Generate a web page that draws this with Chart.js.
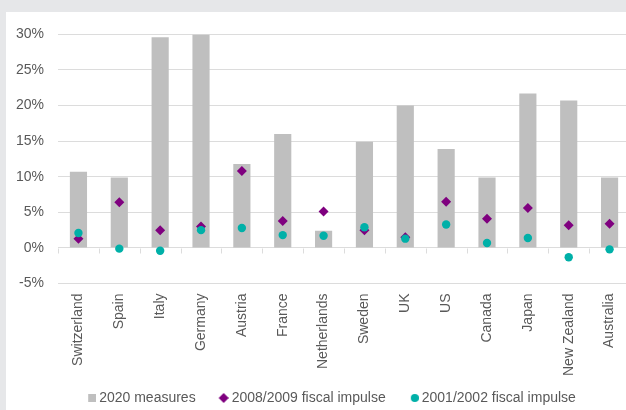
<!DOCTYPE html>
<html>
<head>
<meta charset="utf-8">
<script src="https://cdn.jsdelivr.net/npm/chart.js@4/dist/chart.umd.min.js"></script>
<style>
  html, body { margin: 0; padding: 0; }
  body { width: 626px; height: 410px; background: #e6e7e9; overflow: hidden; position: relative; }
  #panel { position: absolute; left: 6px; top: 12px; width: 620px; height: 398px; background: #ffffff; }
  #wrap { position: absolute; left: -8px; top: 12px; width: 643px; height: 403px; }
</style>
</head>
<body>
<div id="panel"></div>
<div id="wrap"><canvas id="chart"></canvas></div>
<script>
// countries along the x axis
var categories = ['Switzerland', 'Spain', 'Italy', 'Germany', 'Austria', 'France', 'Netherlands',
                  'Sweden', 'UK', 'US', 'Canada', 'Japan', 'New Zealand', 'Australia'];

// stimulus as % of GDP
var measures2020 = [10.7, 9.9, 29.6, 30.0, 11.8, 16.0, 2.4, 14.9, 20.0, 13.9, 9.9, 21.7, 20.7, 9.9];
var impulse0809  = [1.3, 6.4, 2.5, 3.0, 10.8, 3.8, 5.1, 2.5, 1.5, 6.5, 4.1, 5.6, 3.2, 3.4];
var impulse0102  = [2.1, -0.1, -0.4, 2.5, 2.8, 1.8, 1.7, 2.9, 1.3, 3.3, 0.7, 1.4, -1.3, -0.2];

var seriesNames = ['2020 measures', '2008/2009 fiscal impulse', '2001/2002 fiscal impulse'];

var yMin = -5, yMax = 30, yStep = 5;

var GREY = '#bfbfbf';
var PURPLE = '#7f007f';
var TEAL = '#00b0a8';
var TEXT = '#595959';
var GRID = '#dcdcdc';

// legend symbols: drawn at the right end of a wider transparent strip,
// the empty part adds to the gap after the previous legend entry
var SYMBOL_BOX = 16;
var SYMBOL_STRIP = SYMBOL_BOX + 8;

function makeSymbol(shape, color, size) {
    var c = document.createElement('canvas');
    c.width = SYMBOL_STRIP;
    c.height = size;
    var g = c.getContext('2d');
    g.fillStyle = color;
    var x0 = SYMBOL_STRIP - size;
    var h = size / 2;
    if (shape == 'square') {
        g.fillRect(x0, 0, size, size);
    } else if (shape == 'diamond') {
        g.beginPath();
        g.moveTo(x0 + h, 0);
        g.lineTo(x0 + size, h);
        g.lineTo(x0 + h, size);
        g.lineTo(x0, h);
        g.closePath();
        g.fill();
    } else {
        g.beginPath();
        g.arc(x0 + h, h, h, 0, Math.PI * 2);
        g.fill();
    }
    return c;
}

var legendSymbols = [
    makeSymbol('square', GREY, 8),
    makeSymbol('diamond', PURPLE, 10),
    makeSymbol('circle', TEAL, 8)
];

// little tick marks hanging off the zero line between categories
var zeroTicks = {
    id: 'zeroTicks',
    beforeDatasetsDraw: function(chart) {
        var x = chart.scales.x, y = chart.scales.y;
        var ctx = chart.ctx;
        var y0 = Math.round(y.getPixelForValue(0)) + 0.5;
        ctx.save();
        ctx.strokeStyle = GRID;
        ctx.lineWidth = 1;
        ctx.beginPath();
        for (var i = 0; i <= categories.length; i++) {
            var px = Math.round(x.getPixelForValue(i - 0.5)) + 0.5;
            ctx.moveTo(px, y0);
            ctx.lineTo(px, y0 + 5);
        }
        ctx.stroke();
        ctx.restore();
    }
};

// legend sits a bit right of the canvas centre
var legendShift = {
    id: 'legendShift',
    afterLayout: function(chart) {
        chart.legend.left += 8;
        chart.legend.right += 8;
    }
};

Chart.defaults.font.family = '"Liberation Sans", Arial, sans-serif';
Chart.defaults.font.size = 14;
Chart.defaults.color = TEXT;

new Chart(document.getElementById('chart'), {
    type: 'bar',
    data: {
        labels: categories,
        datasets: [{
            label: seriesNames[0],
            data: measures2020,
            backgroundColor: GREY,
            borderWidth: 0,
            barPercentage: 0.42,
            categoryPercentage: 1,
            order: 3
        }, {
            type: 'line',
            label: seriesNames[1],
            data: impulse0809,
            showLine: false,
            pointStyle: 'rectRot',
            pointRadius: 5,
            pointHoverRadius: 5,
            pointBackgroundColor: PURPLE,
            pointBorderWidth: 0,
            order: 2
        }, {
            type: 'line',
            label: seriesNames[2],
            data: impulse0102,
            showLine: false,
            pointStyle: 'circle',
            pointRadius: 4.2,
            pointHoverRadius: 4.2,
            pointBackgroundColor: TEAL,
            pointBorderWidth: 0,
            order: 1
        }]
    },
    options: {
        responsive: true,
        maintainAspectRatio: false,
        animation: false,
        layout: { padding: { left: 10, right: 1, top: 15, bottom: 0 } },
        scales: {
            x: {
                grid: { display: false },
                border: { display: false },
                ticks: {
                    autoSkip: false,
                    minRotation: 90,
                    maxRotation: 90,
                    padding: 2
                }
            },
            y: {
                min: yMin,
                max: yMax,
                grid: { color: GRID, drawTicks: false },
                border: { display: false },
                ticks: {
                    stepSize: yStep,
                    padding: 14,
                    callback: function(v) { return v + '%'; }
                }
            }
        },
        plugins: {
            tooltip: { enabled: false },
            legend: {
                position: 'bottom',
                labels: {
                    usePointStyle: true,
                    pointStyleWidth: SYMBOL_BOX,
                    padding: 13,
                    generateLabels: function(chart) {
                        return chart.data.datasets.map(function(ds, i) {
                            return {
                                text: ds.label,
                                pointStyle: legendSymbols[i],
                                fontColor: TEXT,
                                lineWidth: 0,
                                hidden: false,
                                datasetIndex: i
                            };
                        });
                    }
                }
            }
        }
    },
    plugins: [zeroTicks, legendShift]
});
</script>
</body>
</html>
